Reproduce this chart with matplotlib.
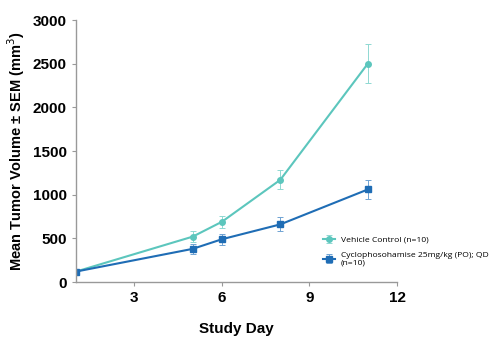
import matplotlib.pyplot as plt

days = [1, 5, 6, 8, 11]
vehicle = [120, 520, 690, 1170, 2500]
vehicle_err = [10, 60, 70, 110, 225]
cyclo = [120, 380, 490, 660, 1060]
cyclo_err = [10, 60, 65, 80, 110]

TEAL = '#5cc6bd'
BLUE = '#1f6db5'

plt.rcParams['font.family'] = ['Liberation Sans', 'DejaVu Sans']

fig = plt.figure(figsize=(5, 3.39), dpi=100)
ax = fig.add_axes([0.152, 0.168, 0.642, 0.773])

ax.errorbar(days, vehicle, yerr=vehicle_err, color=TEAL, marker='o', ms=4,
            lw=1.5, elinewidth=0.7, capsize=2.5, capthick=0.7, ecolor='#8fd8d2',
            label='Vehicle Control (n=10)')
ax.errorbar(days, cyclo, yerr=cyclo_err, color=BLUE, marker='s', ms=4,
            lw=1.5, elinewidth=0.7, capsize=2.5, capthick=0.7, ecolor='#6fa3d3',
            label='Cyclophosohamise 25mg/kg (PO); QD\n(n=10)')

ax.set_xlim(1, 12)
ax.set_ylim(0, 3000)
ax.set_xticks([3, 6, 9, 12])
ax.set_yticks(range(0, 3001, 500))
for s in ['top', 'right']:
    ax.spines[s].set_visible(False)
for s in ['left', 'bottom']:
    ax.spines[s].set_color('#999999')
    ax.spines[s].set_linewidth(1)
ax.tick_params(colors='#999999', length=3, labelcolor='black', labelsize=11)
for lab in ax.get_xticklabels() + ax.get_yticklabels():
    lab.set_fontweight('bold')

ax.set_xlabel('Study Day', fontsize=11, fontweight='bold', labelpad=12)
ax.set_ylabel('Mean Tumor Volume \u00b1 SEM (mm$^3$)', fontsize=10.5,
              fontweight='bold', labelpad=4)

leg = ax.legend(loc='lower left', bbox_to_anchor=(0.745, 0.03), frameon=False,
                handlelength=1.5, handletextpad=0.6, labelspacing=0.9,
                prop={'family': 'Open Sans', 'size': 6.1})

fig.savefig('out.png', dpi=100)
